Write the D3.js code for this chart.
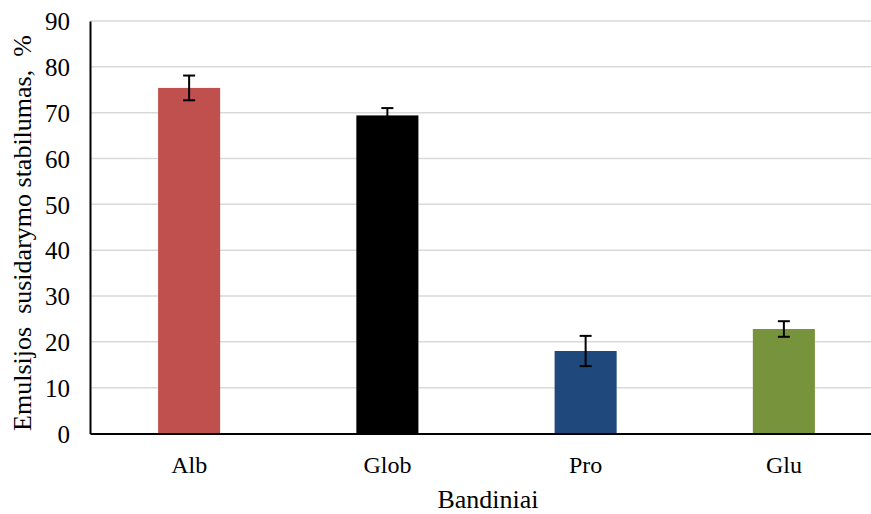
<!DOCTYPE html>
<html>
<head>
<meta charset="utf-8">
<script src="https://cdn.jsdelivr.net/npm/d3@7"></script>
<style>
  html, body { margin: 0; padding: 0; background: #fff; }
  svg { display: block; }
</style>
</head>
<body>
<svg id="chart" width="871" height="514"></svg>
<script>
// Emulsion stability by sample
const categories = ["Alb", "Glob", "Pro", "Glu"];
const values = [75.4, 69.4, 18.0, 22.8];
const errors = [2.7, 1.6, 3.3, 1.7];
const colors = ["#c0504d", "#000000", "#1f497d", "#77933c"];
const yTicks = [0, 10, 20, 30, 40, 50, 60, 70, 80, 90];
const xTitle = "Bandiniai";
const yTitle = "Emulsijos\u00a0\u00a0susidarymo stabilumas,\u00a0\u00a0%";

const FONT = "Liberation Serif";
const svg = d3.select("#chart");
const plotLeft = 90, plotRight = 883, plotTop = 21, plotBottom = 433.5;

const x = d3.scaleBand().domain(categories).range([plotLeft, plotRight]).paddingInner(0.687).paddingOuter(0.3435);
const y = d3.scaleLinear().domain([0, 90]).range([plotBottom, plotTop]);

// horizontal gridlines
svg.append("g").selectAll("line")
  .data(yTicks.filter(t => t > 0))
  .join("line")
  .attr("x1", plotLeft).attr("x2", plotRight)
  .attr("y1", d => y(d)).attr("y2", d => y(d))
  .attr("stroke", "#d9d9d9").attr("stroke-width", 1.5);

// bars
svg.append("g").selectAll("rect")
  .data(categories)
  .join("rect")
  .attr("x", d => x(d))
  .attr("width", x.bandwidth())
  .attr("y", (d, i) => y(values[i]))
  .attr("height", (d, i) => y(0) - y(values[i]))
  .attr("fill", (d, i) => colors[i]);

// error bars
const eb = svg.append("g").attr("stroke", "#000").attr("stroke-width", 2);
categories.forEach((c, i) => {
  const cx = x(c) + x.bandwidth() / 2;
  const hi = y(values[i] + errors[i]), lo = y(values[i] - errors[i]);
  eb.append("line").attr("x1", cx).attr("x2", cx).attr("y1", hi).attr("y2", lo);
  eb.append("line").attr("x1", cx - 6).attr("x2", cx + 6).attr("y1", hi).attr("y2", hi);
  eb.append("line").attr("x1", cx - 6).attr("x2", cx + 6).attr("y1", lo).attr("y2", lo);
});

// y axis
const yAxis = d3.axisLeft(y).tickValues(yTicks).tickSize(0).tickPadding(20).tickFormat(d3.format("d"));
const gy = svg.append("g").attr("transform", `translate(${plotLeft},0)`).call(yAxis);
gy.attr("font-family", FONT).attr("font-size", 25);
gy.select(".domain").attr("stroke", "#000").attr("stroke-width", 2);
gy.selectAll("text").style("font-family", FONT).style("font-size", "25px").attr("fill", "#000").attr("dy", "0.35em");

// x axis
const xAxis = d3.axisBottom(x).tickSize(0).tickPadding(22);
const gx = svg.append("g").attr("transform", `translate(0,${plotBottom})`).call(xAxis);
gx.attr("font-family", FONT).attr("font-size", 24);
gx.select(".domain").attr("stroke", "#000").attr("stroke-width", 2);
gx.selectAll("text").style("font-family", FONT).style("font-size", "24px").attr("fill", "#000");

// axis titles
svg.append("text")
  .attr("x", 488).attr("y", 508)
  .attr("text-anchor", "middle")
  .style("font-family", FONT).style("font-size", "26px")
  .text(xTitle);

svg.append("text")
  .attr("transform", "translate(31,233) rotate(-90)")
  .attr("text-anchor", "middle")
  .style("font-family", FONT).style("font-size", "26px")
  .text(yTitle);
</script>
</body>
</html>
